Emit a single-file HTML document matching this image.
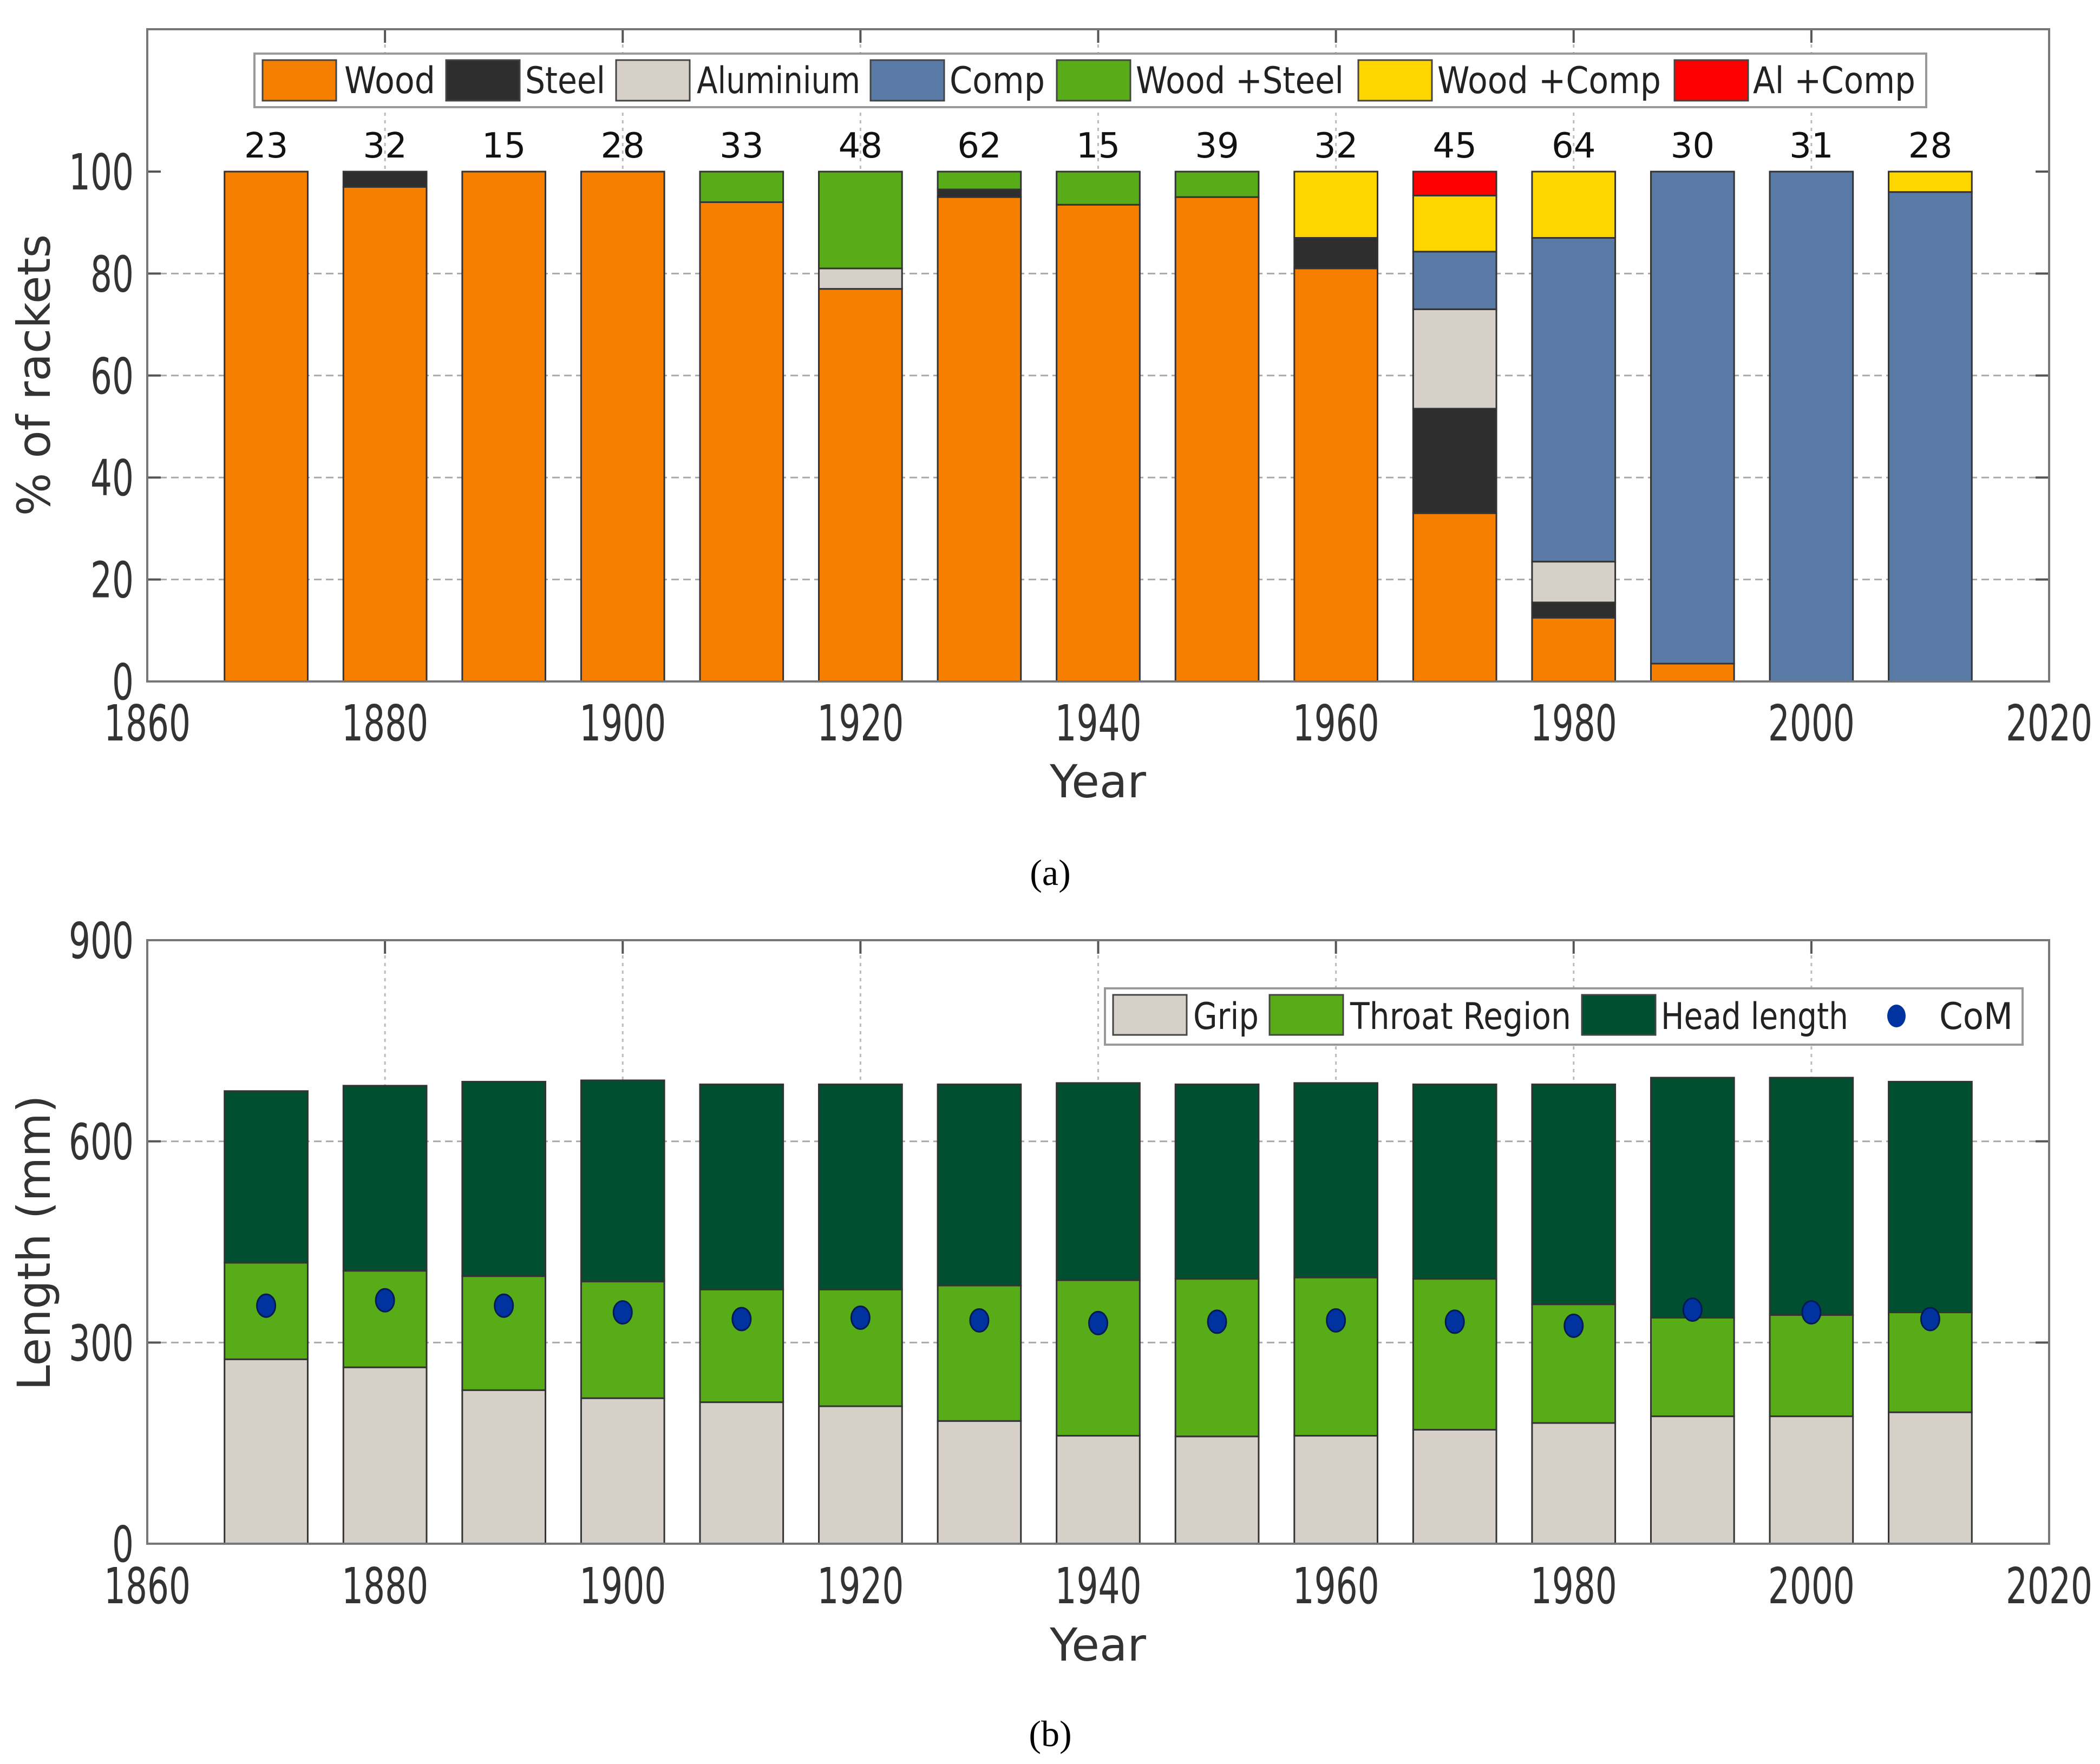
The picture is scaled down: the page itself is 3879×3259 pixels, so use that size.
<!DOCTYPE html>
<html><head><meta charset="utf-8"><style>
html,body{margin:0;padding:0;background:#fff}
svg{display:block}
text{font-family:"DejaVu Sans","Liberation Sans",sans-serif}
</style></head><body>
<svg id="fig" width="3879" height="3259" viewBox="0 0 3879 3259" xmlns="http://www.w3.org/2000/svg">
<g id="chartA"></g>
<g id="chartB"></g>
<text x="1940" y="1635" font-size="68" text-anchor="middle" style="font-family:'Liberation Serif',serif">(a)</text>
<text x="1940" y="3226" font-size="68" text-anchor="middle" style="font-family:'Liberation Serif',serif">(b)</text>
</svg>
<script>
const years = [1870,1880,1890,1900,1910,1920,1930,1940,1950,1960,1970,1980,1990,2000,2010];
const counts = [23,32,15,28,33,48,62,15,39,32,45,64,30,31,28];
const materials = ["Wood","Steel","Aluminium","Comp","Wood +Steel","Wood +Comp","Al +Comp"];
const woodPct     = [100,97,100,100,94,77,95,93.5,95,81,33,12.5,3.5,0,0];
const steelPct    = [0,3,0,0,0,0,1.5,0,0,6,20.5,3,0,0,0];
const alumPct     = [0,0,0,0,0,4,0,0,0,0,19.5,8,0,0,0];
const compPct     = [0,0,0,0,0,0,0,0,0,0,11.3,63.5,96.5,100,96];
const woodSteelPct= [0,0,0,0,6,19,3.5,6.5,5,0,0,0,0,0,0];
const woodCompPct = [0,0,0,0,0,0,0,0,0,13,11,13,0,0,4];
const alCompPct   = [0,0,0,0,0,0,0,0,0,0,4.7,0,0,0,0];
const yTicksA = [0,20,40,60,80,100];
const xTicks = [1860,1880,1900,1920,1940,1960,1980,2000,2020];
const gripLen   = [275,263,229,217,211,205,183,161,160,161,170,180,190,190,196];
const throatLen = [144,144,170,174,168,174,202,232,235,236,225,177,147,151,149];
const headLen   = [256,276,290,300,306,306,300,294,290,290,290,328,358,354,344];
const comPos    = [355,363,355,345,335,337,333,329,331,333,331,325,349,345,335];
const yTicksB = [0,300,600,900];

const NS="http://www.w3.org/2000/svg";
function mk(parent,tag,attrs,txt){const e=document.createElementNS(NS,tag);for(const k in attrs)e.setAttribute(k,attrs[k]);if(txt!==undefined)e.textContent=txt;parent.appendChild(e);return e;}
const L=272,R=3785;
const xs = y => L+(y-1860)*(R-L)/160;
const barW = 7*(R-L)/160;
const tw = s => ({'textLength': s.length*40,'lengthAdjust':'spacingAndGlyphs'});

// ---- Chart A
const A=document.getElementById('chartA');
const aTop=54,aBot=1259,a100=317;
const ya = v => aBot - v*(aBot-a100)/100;
yTicksA.forEach(t=>{
  if(t>0&&t<100){const g=mk(A,'line',{x1:L,x2:R,y1:ya(t),y2:ya(t),stroke:'#aaa','stroke-width':3,'stroke-dasharray':'14 8'});
  
  }
  mk(A,'line',{x1:L,x2:L+25,y1:ya(t),y2:ya(t),stroke:'#555','stroke-width':4});
  mk(A,'line',{x1:R-25,x2:R,y1:ya(t),y2:ya(t),stroke:'#555','stroke-width':4});
  const tl=mk(A,'text',Object.assign({x:247,y:ya(t)+33,'font-size':92,'text-anchor':'end',fill:'#333'},tw(String(t))),String(t));
  
  
});
xTicks.forEach(t=>{
  if(t>1860&&t<2020){mk(A,'line',{x1:xs(t),x2:xs(t),y1:aTop,y2:aBot,stroke:'#bbb','stroke-width':3,'stroke-dasharray':'6 8'});}
  mk(A,'line',{x1:xs(t),x2:xs(t),y1:aTop,y2:aTop+25,stroke:'#555','stroke-width':4});
  const tl=mk(A,'text',Object.assign({x:xs(t),y:1368,'font-size':92,'text-anchor':'middle',fill:'#333'},tw(String(t))),String(t));
  
  
});
const series=[woodPct,steelPct,alumPct,compPct,woodSteelPct,woodCompPct,alCompPct];
const colA=['#f77f00','#2e2e2e','#d6d0c8','#5a7aa6','#58ac18','#ffd500','#ff0000'];
years.forEach((yr,i)=>{
  let acc=0;
  series.forEach((s,k)=>{
    const v=s[i]; if(v<=0) return;
    const r=mk(A,'rect',{x:xs(yr)-barW/2,y:ya(acc+v),width:barW,height:ya(acc)-ya(acc+v),fill:colA[k],stroke:'#333','stroke-width':3});
    
    
    acc+=v;
  });
  const c=mk(A,'text',{x:xs(yr),y:291,'font-size':64,'text-anchor':'middle',fill:'#111'},String(counts[i]));
  
  
});
mk(A,'rect',{x:L,y:aTop,width:R-L,height:aBot-aTop,fill:'none',stroke:'#777','stroke-width':4});
{const t=mk(A,'text',{x:2028,y:1473,'font-size':84,'text-anchor':'middle',fill:'#333'},'Year');

const y=mk(A,'text',{x:0,y:0,'font-size':84,'text-anchor':'middle',fill:'#333',transform:'translate(92,693) rotate(-90)'},'% of rackets');
}
// legend A
const legA=mk(A,'g',{});


mk(legA,'rect',{x:470,y:99,width:3088,height:99,fill:'#fff',stroke:'#999','stroke-width':4});
const swA=[485,824,1138,1608,1952,2509,3093], txA=[636,970,1287,1754,2098,2655,3238], twA=[168,148,302,176,384,413,300];
materials.forEach((m,k)=>{
  const e=mk(legA,'g',{});
  
  
  mk(e,'rect',{x:swA[k],y:111,width:136,height:75,fill:colA[k],stroke:'#444','stroke-width':3});
  mk(e,'text',{x:txA[k],y:172,'font-size':68,fill:'#222',textLength:twA[k],lengthAdjust:'spacingAndGlyphs'},m);
});

// ---- Chart B
const B=document.getElementById('chartB');
const bTop=1737,bBot=2852;
const yb = v => bBot - v*(bBot-bTop)/900;
yTicksB.forEach(t=>{
  if(t>0&&t<900){mk(B,'line',{x1:L,x2:R,y1:yb(t),y2:yb(t),stroke:'#aaa','stroke-width':3,'stroke-dasharray':'14 8'});}
  mk(B,'line',{x1:L,x2:L+25,y1:yb(t),y2:yb(t),stroke:'#555','stroke-width':4});
  mk(B,'line',{x1:R-25,x2:R,y1:yb(t),y2:yb(t),stroke:'#555','stroke-width':4});
  const tl=mk(B,'text',Object.assign({x:247,y:yb(t)+33,'font-size':92,'text-anchor':'end',fill:'#333'},tw(String(t))),String(t));
  
  
});
xTicks.forEach(t=>{
  if(t>1860&&t<2020){mk(B,'line',{x1:xs(t),x2:xs(t),y1:bTop,y2:bBot,stroke:'#bbb','stroke-width':3,'stroke-dasharray':'6 8'});}
  mk(B,'line',{x1:xs(t),x2:xs(t),y1:bTop,y2:bTop+25,stroke:'#555','stroke-width':4});
  const tl=mk(B,'text',Object.assign({x:xs(t),y:2962,'font-size':92,'text-anchor':'middle',fill:'#333'},tw(String(t))),String(t));
  
  
});
const segB=[gripLen,throatLen,headLen], colB=['#d6d0c8','#58ac18','#004f30'], nmB=['grip','throat','head'];
years.forEach((yr,i)=>{
  let acc=0;
  segB.forEach((s,k)=>{
    const v=s[i];
    const r=mk(B,'rect',{x:xs(yr)-barW/2,y:yb(acc+v),width:barW,height:yb(acc)-yb(acc+v),fill:colB[k],stroke:'#333','stroke-width':3});
    
    
    acc+=v;
  });
});
years.forEach((yr,i)=>{
  const c=mk(B,'ellipse',{cx:xs(yr),cy:yb(comPos[i]),rx:17,ry:21,fill:'#0033a0',stroke:'#001a55','stroke-width':3});
  
  
});
mk(B,'rect',{x:L,y:bTop,width:R-L,height:bBot-bTop,fill:'none',stroke:'#777','stroke-width':4});
{const t=mk(B,'text',{x:2028,y:3068,'font-size':84,'text-anchor':'middle',fill:'#333'},'Year');

const y=mk(B,'text',{x:0,y:0,'font-size':84,'text-anchor':'middle',fill:'#333',transform:'translate(92,2296) rotate(-90)'},'Length (mm)');
}
const legB=mk(B,'g',{});


mk(legB,'rect',{x:2041,y:1826,width:1695,height:104,fill:'#fff',stroke:'#999','stroke-width':4});
const labB=['Grip','Throat Region','Head length'], swB=[2056,2345,2922], txB=[2204,2494,3068], twB=[121,408,346];
labB.forEach((m,k)=>{
  const e=mk(legB,'g',{});
  
  
  mk(e,'rect',{x:swB[k],y:1838,width:136,height:74,fill:colB[k],stroke:'#444','stroke-width':3});
  mk(e,'text',{x:txB[k],y:1901,'font-size':68,fill:'#222',textLength:twB[k],lengthAdjust:'spacingAndGlyphs'},m);
});
{const e=mk(legB,'g',{});


mk(e,'ellipse',{cx:3503,cy:1877,rx:17,ry:21,fill:'#0033a0'});
mk(e,'text',{x:3582,y:1901,'font-size':68,fill:'#222',textLength:136,lengthAdjust:'spacingAndGlyphs'},'CoM');}
</script>
</body></html>
